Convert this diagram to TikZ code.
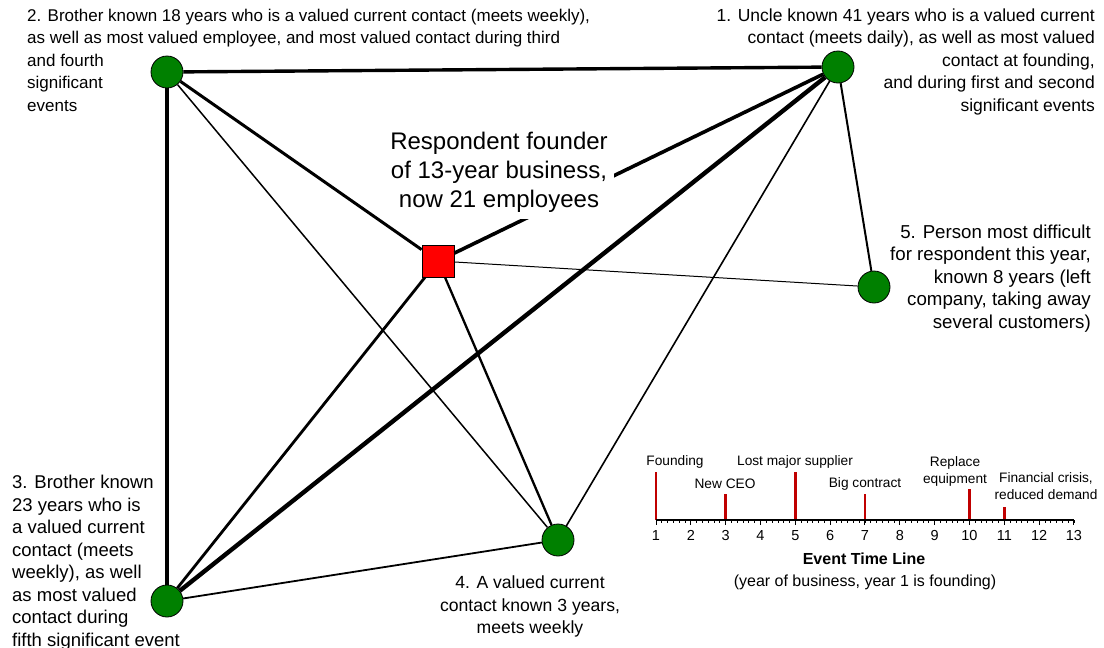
\documentclass[tikz,border=0pt]{standalone}
\usepackage{fontspec}
\setmainfont{Liberation Sans}
\definecolor{tiegreen}{RGB}{0,128,0}
\definecolor{eventred}{RGB}{192,0,0}

\begin{document}
\begin{tikzpicture}[x=1pt, y=-1pt,
    contact/.style = {circle, draw, fill=tiegreen,
                      minimum size=32pt, inner sep=0pt, line width=0.8pt},
    ego/.style     = {rectangle, draw, fill=red,
                      minimum size=32pt, inner sep=0pt, line width=0.8pt},
    tie/.style     = {line width=#1},
    lbl/.style     = {inner sep=0pt, font=\fontsize{#1}{22.5}\selectfont},
    evlbl/.style   = {inner sep=0pt, align=center,
                      font=\fontsize{13.7}{17}\selectfont},
    eventbar/.style = {eventred, line width=2.6pt}
                            ]
    \useasboundingbox (0,0) rectangle (1104,648);

    % the people in the network
    \node (p1)   [contact] at (838,67)  {};
    \node (p2)   [contact] at (167,72)  {};
    \node (p3)   [contact] at (167,601) {};
    \node (p4)   [contact] at (558,540) {};
    \node (p5)   [contact] at (874,287) {};
    \node (resp) [ego]     at (438,261) {};

    % ties, width = strength
    \draw[tie=3.4pt] (p2) -- (p1);
    \draw[tie=3.6pt] (p2) -- (p3);
    \draw[tie=3pt]   (p2) -- (resp);
    \draw[tie=1.5pt] (p2) -- (p4);
    \draw[tie=3.6pt] (p1) -- (resp);
    \draw[tie=4.4pt] (p1) -- (p3);
    \draw[tie=1.6pt] (p1) -- (p4);
    \draw[tie=2pt]   (p1) -- (p5);
    \draw[tie=1pt]   (resp) -- (p5);
    \draw[tie=2.8pt] (resp) -- (p3);
    \draw[tie=2.3pt] (resp) -- (p4);
    \draw[tie=1.8pt] (p3) -- (p4);

    \node (respLbl) [fill=white, inner sep=6.5pt, anchor=north, align=center,
                     font=\fontsize{24}{29}\selectfont] at (499,125)
        {Respondent founder\\ of 13-year business,\\ now 21 employees};

    \node (lbl1) [lbl=17.5, align=right, anchor=north east] at (1095,8.2)
        {1. Uncle known 41 years who is a valued current\\
         contact (meets daily), as well as most valued\\
         contact at founding,\\
         and during first and second\\
         significant events};
    \node (lbl2) [lbl=17, align=left, anchor=north west] at (27,8.6)
        {2. Brother known 18 years who is a valued current contact (meets weekly),\\
         as well as most valued employee, and most valued contact during third\\
         and fourth\\ significant\\ events};
    \node (lbl3) [lbl=18.5, align=left, anchor=north west] at (12,475)
        {3. Brother known\\ 23 years who is\\ a valued current\\ contact (meets\\
         weekly), as well\\ as most valued\\ contact during\\ fifth significant event};
    \node (lbl4) [lbl=17.6, align=center, anchor=north] at (530,576)
        {4. A valued current\\ contact known 3 years,\\ meets weekly};
    \node (lbl5) [lbl=18.7, align=right, anchor=north east] at (1091,224.5)
        {5. Person most difficult\\ for respondent this year,\\ known 8 years (left\\
         company, taking away\\ several customers)};

    % event time line
    \begin{scope}[shift={(621.17,520)}, x=34.83pt]
        \foreach \m in {1,...,72}
            \draw[line width=0.8pt] (1+\m/6,0) -- (1+\m/6,3);
        \foreach \yr in {1,...,13}
            \draw[line width=1pt] (\yr,0) -- (\yr,5)
                node (yr\yr) [below, evlbl, yshift=-5pt,
                              font=\fontsize{14.5}{17}\selectfont] {\yr};
        \foreach \yr/\h in {1/48, 3/26, 5/48, 7/26, 10/31, 11/13}
            \draw[eventbar] (\yr,0) -- (\yr,-\h);
        \draw[line width=1.4pt] (1,0) -- (13,0);
    \end{scope}

    \node (evFound)  [evlbl] at (675,462) {Founding};
    \node (evCEO)    [evlbl] at (725,484) {New CEO};
    \node (evLost)   [evlbl] at (795,462) {Lost major supplier};
    \node (evBig)    [evlbl] at (865,484) {Big contract};
    \node (evRepl)   [evlbl] at (955,471.5) {Replace\\ equipment};
    \node (evCrisis) [evlbl] at (1046,486.5) {Financial crisis,\\ reduced demand};

    \node (tlTitle) [evlbl, font=\fontsize{16}{19}\selectfont\bfseries] at (864,559)
        {Event Time Line};
    \node (tlSub)   [evlbl, font=\fontsize{16}{19}\selectfont] at (865,582)
        {(year of business, year 1 is founding)};
\end{tikzpicture}
\end{document}
